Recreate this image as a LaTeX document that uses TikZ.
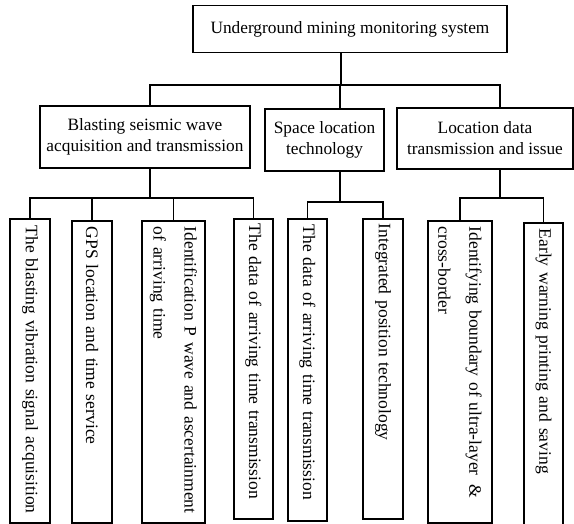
\documentclass[tikz,border=0pt]{standalone}
\usepackage{fontspec}
\setmainfont{Liberation Serif}
\usetikzlibrary{positioning,calc}
\tikzset{
  box/.style={draw,line width=1.6pt,inner sep=2pt,align=center,
    font=\fontsize{17.3}{21}\selectfont},
  leaf/.style={draw,line width=1.6pt,rotate=-90,anchor=west,align=left,
    inner xsep=5pt,text width=290pt,font=\fontsize{17.5}{31}\selectfont},
  wire/.style={line width=1.6pt}
}

\begin{document}
\begin{tikzpicture}[x=1pt,y=-1pt]
\useasboundingbox (0,0) rectangle (574,524);
% Root of the tree
\node [box,minimum width=314,minimum height=47] (top) at (350,29)
  {Underground mining monitoring system};
% Second level
\node [box,minimum width=210,minimum height=62] (A) at (145,137)
  {Blasting seismic wave\\acquisition and transmission};
\node [box,minimum width=119,minimum height=62] (B) at (324.5,140)
  {Space location\\technology};
\node [box,minimum width=176,minimum height=61] (C) at (485,138.5)
  {Location data\\transmission and issue};
% Leaves, text running downwards from the top edge
\node [leaf,minimum width=304,minimum height=40] (l1) at (30,218)
  {The blasting vibration signal acquisition};
\node [leaf,minimum width=302,minimum height=40] (l2) at (92,220)
  {GPS location and time service};
\node [leaf,minimum width=302,minimum height=63] (l3) at (173.5,220)
  {Identification P wave and ascertainment\\of arriving time};
\node [leaf,minimum width=300,minimum height=39] (l4) at (253.5,218)
  {The data of arriving time transmission};
\node [leaf,minimum width=302,minimum height=39] (l5) at (307.5,218)
  {The data of arriving time transmission};
\node [leaf,minimum width=300,minimum height=40] (l6) at (383,218)
  {Integrated position technology};
\node [leaf,minimum width=302,minimum height=64] (l7) at (460,220)
  {Identifying boundary of ultra-layer\hspace{9pt}\&\\cross-border};
\node [leaf,minimum width=302,minimum height=39] (l8) at (543.5,222)
  {Early warning printing and saving};
% Junctions of the buses
\coordinate (jtop) at (341,85);
\coordinate (jA) at (150,198);
\coordinate (jB) at (340,202);
\coordinate (jC) at (500,198);
% Root to second level
\draw [wire] (top.south -| jtop) -- (jtop);
\draw [wire] (A.north -| jA) -- (jA |- jtop) -- (jC |- jtop) -- (C.north -| jC);
\draw [wire] (B.north -| jB) -- (jB |- jtop);
% Second level to leaves
\draw [wire] (A.south -| jA) -- (jA);
\draw [wire] (l1.west) -- (l1.west |- jA) -- (l4.west |- jA) -- (l4.west);
\draw [wire] (l2.west) -- (l2.west |- jA);
\draw [wire] (l3.west) -- (l3.west |- jA);
\draw [wire] (B.south -| jB) -- (jB);
\draw [wire] (l5.west) -- (l5.west |- jB) -- (l6.west |- jB) -- (l6.west);
\draw [wire] (C.south -| jC) -- (jC);
\draw [wire] (l7.west) -- (l7.west |- jC) -- (l8.west |- jC) -- (l8.west);
\end{tikzpicture}
\end{document}
